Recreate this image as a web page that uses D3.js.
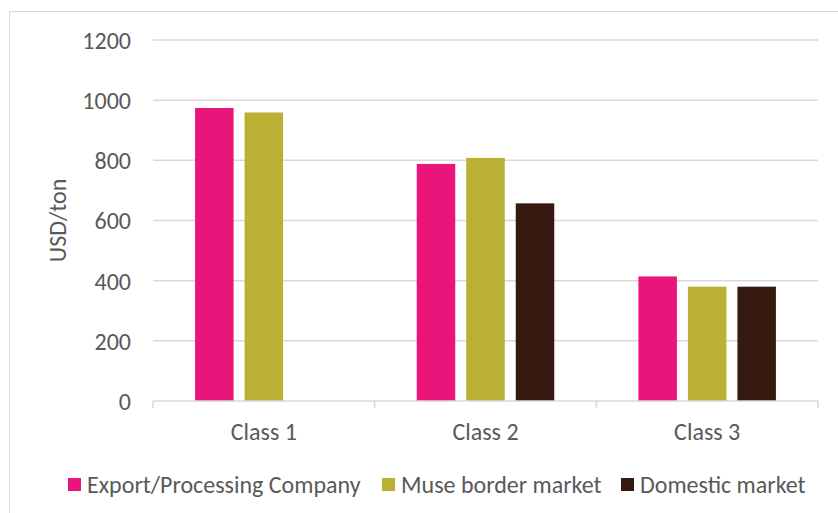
<!DOCTYPE html>
<html>
<head>
<meta charset="utf-8">
<script src="https://cdn.jsdelivr.net/npm/d3@7"></script>
<style>
  body { margin: 0; background: #fff; }
  svg text { font-family: Carlito, "Liberation Sans Narrow", "DejaVu Sans Condensed", "Open Sans", sans-serif; fill: #595959; }
</style>
</head>
<body>
<div id="chart"></div>
<script>
// chart data
var categories = ["Class 1", "Class 2", "Class 3"];
var seriesNames = ["Export/Processing Company", "Muse border market", "Domestic market"];
var exportCompany = [974, 788, 414];
var museBorder = [959, 808, 380];
var domestic = [null, 657, 380];
var yTicks = [0, 200, 400, 600, 800, 1000, 1200];
var colors = ["#ea157a", "#b9b034", "#361a10"];

var series = [exportCompany, museBorder, domestic];

var width = 838, height = 513;
var margin = { top: 40, right: 20, bottom: 112, left: 153 };
var fontSize = 24;

var svg = d3.select("#chart").append("svg")
  .attr("width", width)
  .attr("height", height);

// outer chart border
svg.append("rect")
  .attr("x", 9.5).attr("y", 11.5)
  .attr("width", width).attr("height", height)
  .attr("fill", "none")
  .attr("stroke", "#d9d9d9");

var x = d3.scaleBand()
  .domain(categories)
  .range([margin.left, width - margin.right])
  .padding(0);

var y = d3.scaleLinear()
  .domain([0, 1200])
  .range([height - margin.bottom, margin.top]);

var barW = 38.5, barStep = 49.5;

// gridlines
svg.append("g")
  .selectAll("line")
  .data(yTicks.slice(1))
  .enter()
  .append("line")
  .attr("x1", margin.left).attr("x2", width - margin.right)
  .attr("y1", function(d) { return y(d); })
  .attr("y2", function(d) { return y(d); })
  .attr("stroke", "#d9d9d9")
  .attr("stroke-width", 1.5);

// y axis labels
var yAxis = svg.append("g")
  .attr("transform", "translate(" + margin.left + ",0)")
  .call(d3.axisLeft(y).tickValues(yTicks).tickFormat(d3.format("d")).tickSize(0).tickPadding(22));
yAxis.select(".domain").remove();
yAxis.selectAll("text")
  .attr("font-size", fontSize)
  .attr("dy", "0.35em");

// bars
var groups = svg.append("g")
  .selectAll("g")
  .data(series)
  .enter()
  .append("g")
  .attr("fill", function(d, i) { return colors[i]; });

groups.each(function(vals, si) {
  d3.select(this).selectAll("rect")
    .data(vals.map(function(v, ci) { return { v: v, c: categories[ci] }; })
      .filter(function(d) { return d.v != null; }))
    .enter()
    .append("rect")
    .attr("x", function(d) {
      return x(d.c) + x.bandwidth() / 2 + (si - 1) * barStep - barW / 2;
    })
    .attr("width", barW)
    .attr("y", function(d) { return y(d.v); })
    .attr("height", function(d) { return y(0) - y(d.v); });
});

// x axis
var xAxis = svg.append("g")
  .attr("transform", "translate(0," + y(0) + ")")
  .call(d3.axisBottom(x).tickSize(0).tickPadding(31));
xAxis.select(".domain")
  .attr("stroke", "#d9d9d9")
  .attr("stroke-width", 1.5)
  .attr("d", "M" + margin.left + ",0H" + (width - margin.right));
xAxis.selectAll("text")
  .attr("font-size", fontSize)
  .attr("dy", "0.35em");
// category boundary ticks
xAxis.append("g")
  .selectAll("line")
  .data(categories.map(function(c) { return x(c); }).concat([x.range()[1]]))
  .enter()
  .append("line")
  .attr("x1", function(d) { return d; })
  .attr("x2", function(d) { return d; })
  .attr("y1", 0).attr("y2", 7)
  .attr("stroke", "#d9d9d9")
  .attr("stroke-width", 1.5);

// y axis title
svg.append("text")
  .attr("transform", "translate(58," + ((y(0) + y(1200)) / 2) + ") rotate(-90)")
  .attr("text-anchor", "middle")
  .attr("dy", "0.35em")
  .attr("font-size", fontSize)
  .text("USD/ton");

// legend
var legendX = [68, 382, 621];
var legend = svg.append("g")
  .selectAll("g")
  .data(seriesNames)
  .enter()
  .append("g")
  .attr("transform", function(d, i) { return "translate(" + legendX[i] + ",478)"; });
legend.append("rect")
  .attr("width", 13).attr("height", 13)
  .attr("fill", function(d, i) { return colors[i]; });
legend.append("text")
  .attr("x", 19)
  .attr("y", 6.5)
  .attr("dy", "0.35em")
  .attr("font-size", fontSize)
  .text(function(d) { return d; });
</script>
</body>
</html>
